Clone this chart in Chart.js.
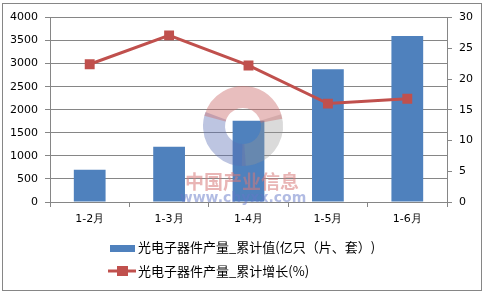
<!DOCTYPE html>
<html>
<head>
<meta charset="utf-8">
<script src="https://cdn.jsdelivr.net/npm/chart.js@4/dist/chart.umd.min.js"></script>
<style>
  html, body { margin: 0; padding: 0; background: #fff; }
  #wrap { width: 485px; height: 295px; }
</style>
</head>
<body>
<div id="wrap"><canvas id="chanliang" width="485" height="295"></canvas></div>
<script>
// 光电子器件产量 数据
const categories = ['1-2月', '1-3月', '1-4月', '1-5月', '1-6月'];
const leijiValues = [700, 1200, 1760, 2880, 3600];
const zengzhangValues = [22.4, 27.1, 22.2, 16.0, 16.8];
const seriesNames = ['光电子器件产量_累计值(亿只（片、套）)', '光电子器件产量_累计增长(%)'];

const barColor = '#4F81BD';
const lineColor = '#C0504D';
const axisColor = '#868686';
const tickFont = { family: 'DejaVu Sans', size: 11 };

// 边框 + 图例 + 水印
const decor = {
  id: 'decor',
  beforeDraw(chart) {
    const ctx = chart.ctx;
    ctx.save();
    ctx.fillStyle = '#fff';
    ctx.fillRect(0, 0, chart.width, chart.height);
    ctx.strokeStyle = axisColor;
    ctx.lineWidth = 1;
    ctx.strokeRect(2.5, 3.5, 479, 287);
    ctx.restore();
  },
  afterDatasetDraw(chart, args) {
    if (args.index !== 0) return;
    const ctx = chart.ctx;
    const cx = 243, cy = 126, r = 29;
    ctx.save();
    ctx.lineWidth = 22;
    ctx.strokeStyle = 'rgba(150,150,150,0.35)';
    ctx.beginPath(); ctx.arc(cx, cy, r, -0.3, 1.6); ctx.stroke();
    ctx.strokeStyle = 'rgba(90,110,180,0.4)';
    ctx.beginPath(); ctx.arc(cx, cy, r, 1.5, 3.5); ctx.stroke();
    ctx.strokeStyle = 'rgba(205,110,110,0.45)';
    ctx.beginPath(); ctx.arc(cx, cy, r, 3.4, 6.1); ctx.stroke();
    ctx.textAlign = 'center';
    ctx.textBaseline = 'middle';
    ctx.fillStyle = 'rgba(215,120,120,0.55)';
    ctx.font = 'bold 19px "Noto Sans CJK SC"';
    ctx.fillText('中国产业信息', 242, 182);
    ctx.fillStyle = 'rgba(100,120,200,0.5)';
    ctx.font = 'bold 14px "DejaVu Sans"';
    ctx.fillText('www.chyxx.com', 243, 198);
    ctx.restore();
  },
  afterDraw(chart) {
    const ctx = chart.ctx;
    ctx.save();
    ctx.fillStyle = barColor;
    ctx.fillRect(110, 245, 25, 7);
    ctx.strokeStyle = lineColor;
    ctx.lineWidth = 3;
    ctx.beginPath(); ctx.moveTo(108, 271); ctx.lineTo(136, 271); ctx.stroke();
    ctx.fillStyle = lineColor;
    ctx.fillRect(117, 266, 11, 10);
    ctx.fillStyle = '#000';
    ctx.textBaseline = 'middle';
    ctx.font = '13px "Noto Sans CJK SC"';
    ctx.fillText(seriesNames[0], 138, 247);
    ctx.fillText(seriesNames[1], 138, 271);
    ctx.restore();
  }
};

new Chart(document.getElementById('chanliang'), {
  type: 'bar',
  data: {
    labels: categories,
    datasets: [
      {
        type: 'bar',
        label: seriesNames[0],
        data: leijiValues,
        backgroundColor: barColor,
        yAxisID: 'y',
        categoryPercentage: 1,
        barPercentage: 0.4,
        order: 1
      },
      {
        type: 'line',
        label: seriesNames[1],
        data: zengzhangValues,
        borderColor: lineColor,
        backgroundColor: lineColor,
        borderWidth: 3,
        pointStyle: 'rect',
        pointRadius: 7,
        pointBorderWidth: 0,
        tension: 0,
        yAxisID: 'y1',
        order: 0
      }
    ]
  },
  options: {
    responsive: false,
    animation: false,
    layout: { padding: { top: 17.5, left: 0, right: 0, bottom: 0 } },
    plugins: {
      legend: { display: false },
      tooltip: { enabled: false }
    },
    scales: {
      x: {
        grid: { offset: true, drawOnChartArea: false, tickLength: 5, color: axisColor },
        border: { color: axisColor },
        ticks: { color: '#000', font: tickFont, padding: 6, maxRotation: 0 },
        afterFit(s) { s.height = 93; }
      },
      y: {
        position: 'left',
        min: 0, max: 4000,
        ticks: { stepSize: 500, color: '#000', font: tickFont, padding: 7, callback: v => String(v) },
        grid: { color: axisColor, tickLength: 5 },
        border: { color: axisColor },
        afterFit(s) { s.width = 50; }
      },
      y1: {
        position: 'right',
        min: 0, max: 30,
        ticks: { stepSize: 5, color: '#000', font: tickFont, padding: 7, callback: v => String(v) },
        grid: { drawOnChartArea: false, color: axisColor, tickLength: 5 },
        border: { color: axisColor },
        afterFit(s) { s.width = 38; }
      }
    }
  },
  plugins: [decor]
});
</script>
</body>
</html>
